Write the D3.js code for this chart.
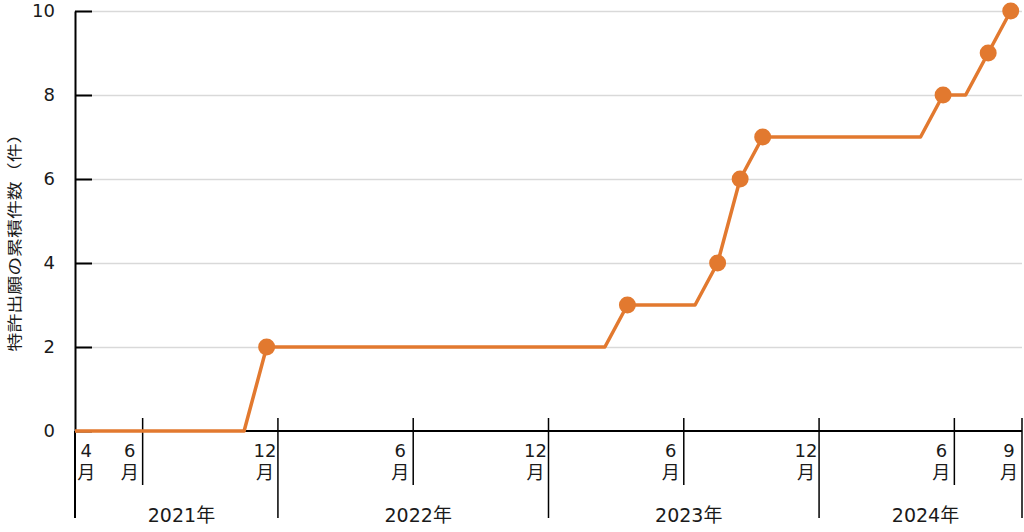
<!DOCTYPE html>
<html>
<head>
<meta charset="utf-8">
<script src="https://cdn.jsdelivr.net/npm/d3@7"></script>
<style>
  body { margin: 0; background: #fff; }
  text { font-family: "DejaVu Sans", "Noto Sans CJK JP", sans-serif; fill: #1a1a1a; }
  .cjk { font-family: "Noto Sans CJK JP", sans-serif; }
</style>
</head>
<body>
<script>
// months on the category axis, April 2021 to September 2024
var months = d3.timeMonth.range(new Date(2021, 3, 1), new Date(2024, 9, 1)).map(d3.timeFormat('%Y-%m'));

// cumulative patent filings per month
var counts = [
  0, 0, 0, 0, 0, 0, 0, 0, 2,          // 2021
  2, 2, 2, 2, 2, 2, 2, 2, 2, 2, 2, 2, // 2022
  2, 2, 2, 3, 3, 3, 3, 4, 6, 7, 7, 7, // 2023
  7, 7, 7, 7, 7, 8, 8, 9, 10          // 2024
];

var labelMonths = ['2021-04', '2021-06', '2021-12', '2022-06', '2022-12', '2023-06', '2023-12', '2024-06', '2024-09'];
var labelTexts = ['4', '6', '12', '6', '12', '6', '12', '6', '9'];
var years = ['2021', '2022', '2023', '2024'];
var yTicks = [0, 2, 4, 6, 8, 10];
var yTitle = '特許出願の累積件数（件）';

var width = 1024,
    height = 532,
    margin = { top: 11, right: 2, bottom: 101, left: 75 };

var svg = d3.select('body').append('svg')
    .attr('width', width)
    .attr('height', height);

var innerW = width - margin.left - margin.right,
    innerH = height - margin.top - margin.bottom;

var g = svg.append('g')
    .attr('transform', 'translate(' + margin.left + ',' + margin.top + ')');

var x = d3.scaleBand().domain(months).range([0, innerW]).padding(0),
    y = d3.scaleLinear().domain([0, 10]).range([innerH, 0]);
var bw = x.bandwidth();
var orange = '#e2792f';

// gridlines
g.append('g')
    .call(d3.axisLeft(y).tickValues(yTicks.slice(1)).tickSize(-innerW).tickFormat(''))
    .call(function(s) {
      s.select('.domain').remove();
      s.selectAll('line').attr('stroke', '#d9d9d9').attr('stroke-width', 1.5);
    });

// y axis with inside ticks
g.append('g')
    .call(d3.axisLeft(y).tickValues(yTicks).tickSize(-17).tickPadding(20).tickSizeOuter(0))
    .call(function(s) {
      s.select('.domain').attr('stroke', '#000').attr('stroke-width', 2);
      s.selectAll('line').attr('stroke', '#000').attr('stroke-width', 2);
      s.selectAll('text')
          .attr('font-size', 18)
          .attr('font-family', '"DejaVu Sans", sans-serif')
          .attr('fill', '#1a1a1a');
    });

svg.append('text')
    .attr('class', 'cjk')
    .attr('transform', 'translate(20,' + (margin.top + 227) + ') rotate(-90)')
    .attr('text-anchor', 'middle')
    .attr('font-size', 15)
    .attr('textLength', 227)
    .attr('lengthAdjust', 'spacingAndGlyphs')
    .text(yTitle);

// x axis baseline
var ax = g.append('g').attr('transform', 'translate(0,' + innerH + ')');
ax.append('line')
    .attr('x1', x.range()[0]).attr('x2', x.range()[1])
    .attr('stroke', '#000').attr('stroke-width', 2);

// left edge extends down through both label rows
ax.append('line')
    .attr('x1', x.range()[0]).attr('x2', x.range()[0])
    .attr('y1', 0).attr('y2', 87)
    .attr('stroke', '#000').attr('stroke-width', 2);

labelMonths.forEach(function(m, i) {
  var first = i === 0;
  var edge = x(m) + bw;
  var isEnd = m.slice(5) === '12' || m === months[months.length - 1];
  if (!first) {
    ax.append('line')
        .attr('x1', edge).attr('x2', edge)
        .attr('y1', -13).attr('y2', isEnd ? 87 : 54)
        .attr('stroke', '#000').attr('stroke-width', 1.5);
  }
  var cx = first ? x(m) + bw / 2 : edge - 13;
  ax.append('text')
      .attr('x', cx).attr('y', 26)
      .attr('text-anchor', 'middle')
      .attr('font-size', 18)
      .text(labelTexts[i]);
  ax.append('text')
      .attr('class', 'cjk')
      .attr('x', cx).attr('y', 48)
      .attr('text-anchor', 'middle')
      .attr('font-size', 18)
      .text('月');
});

// year group labels
years.forEach(function(yr) {
  var ym = months.filter(function(m) { return m.slice(0, 4) === yr; });
  var x0 = x(ym[0]), x1 = x(ym[ym.length - 1]) + bw;
  ax.append('text')
      .attr('x', (x0 + x1) / 2 + 5)
      .attr('y', 91)
      .attr('text-anchor', 'middle')
      .attr('font-size', 19)
      .text(yr + '年');
});

// data points
var pts = months.map(function(m, i) {
  return { x: x(m) + bw / 2, y: y(counts[i]), step: i > 0 && counts[i] > counts[i - 1] };
});

// the line begins at the axis
var linePts = [{ x: x.range()[0], y: y(counts[0]) }].concat(pts);

g.append('path')
    .datum(linePts)
    .attr('fill', 'none')
    .attr('stroke', orange)
    .attr('stroke-width', 3.5)
    .attr('stroke-linejoin', 'round')
    .attr('d', d3.line().x(function(d) { return d.x; }).y(function(d) { return d.y; }));

g.selectAll('.dot')
    .data(pts.filter(function(d) { return d.step; }))
    .enter().append('circle')
    .attr('class', 'dot')
    .attr('cx', function(d) { return d.x; })
    .attr('cy', function(d) { return d.y; })
    .attr('r', 8.5)
    .attr('fill', orange);
</script>
</body>
</html>
